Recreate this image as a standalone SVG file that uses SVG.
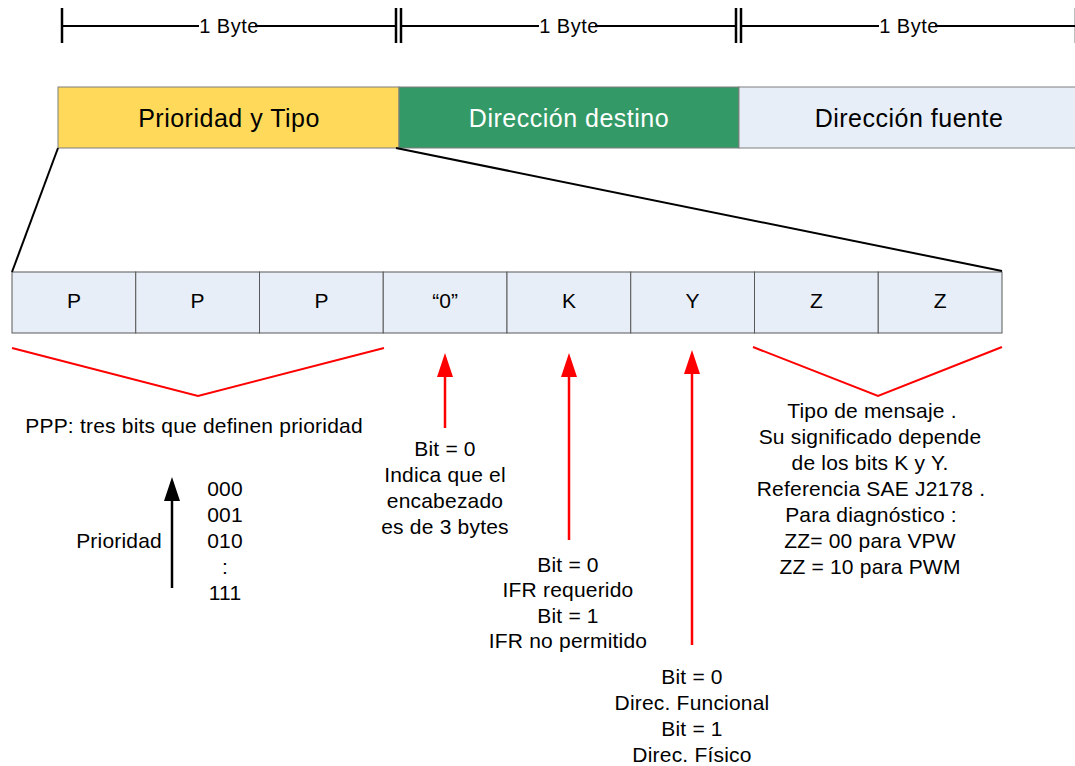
<svg xmlns="http://www.w3.org/2000/svg" width="1075" height="766" viewBox="0 0 1075 766">
  <defs>
    <style>
      text { font-family: "Liberation Sans", Arial, sans-serif; fill: #000; }
      .dim { font-size: 20px; letter-spacing: 0.5px; text-anchor: middle; }
      .hdr { font-size: 25px; letter-spacing: 0.5px; text-anchor: middle; }
      .bit { font-size: 21px; text-anchor: middle; }
      .note { font-size: 21px; letter-spacing: 0.2px; text-anchor: middle; }
      .dimline { stroke: #000; stroke-width: 2; fill: none; }
      .tick { stroke: #000; stroke-width: 2.5; fill: none; }
      .field { stroke: #7f7f7f; stroke-width: 1; }
      .cell { fill: #e8eef7; stroke: #595959; stroke-width: 1; }
      .expand { stroke: #000; stroke-width: 2; fill: none; }
      .brace { stroke: #ff0000; stroke-width: 2; fill: none; stroke-linejoin: miter; }
      .redarrow { stroke: #ff0000; stroke-width: 2.5; fill: none; marker-end: url(#redHead); }
      .blackarrow { stroke: #000; stroke-width: 2.5; fill: none; marker-end: url(#blackHead); }
    </style>
    <marker id="redHead" markerUnits="userSpaceOnUse" markerWidth="24" markerHeight="16" viewBox="0 0 24 16" refX="19" refY="8" orient="auto">
      <path d="M0,0 L24,8 L0,16 Z" fill="#ff0000"/>
    </marker>
    <marker id="blackHead" markerUnits="userSpaceOnUse" markerWidth="24" markerHeight="16" viewBox="0 0 24 16" refX="19" refY="8" orient="auto">
      <path d="M0,0 L24,8 L0,16 Z" fill="#000"/>
    </marker>
  </defs>

  <rect x="0" y="0" width="1075" height="766" fill="#ffffff"/>

  <!-- byte width dimension bars -->
  <g id="dimensions">
    <line class="tick" x1="62" y1="8" x2="62" y2="43"/>
    <line class="tick" x1="396" y1="8" x2="396" y2="43"/>
    <line class="tick" x1="401" y1="8" x2="401" y2="43"/>
    <line class="tick" x1="736" y1="8" x2="736" y2="43"/>
    <line class="tick" x1="741" y1="8" x2="741" y2="43"/>
    <line x1="1074.5" y1="8" x2="1074.5" y2="43" stroke="#bfbfbf" stroke-width="1"/>
    <line class="dimline" x1="62" y1="26" x2="199" y2="26"/>
    <line class="dimline" x1="255" y1="26" x2="396" y2="26"/>
    <line class="dimline" x1="401" y1="26" x2="539" y2="26"/>
    <line class="dimline" x1="595" y1="26" x2="736" y2="26"/>
    <line class="dimline" x1="741" y1="26" x2="879" y2="26"/>
    <line class="dimline" x1="935" y1="26" x2="1075" y2="26"/>
    <text class="dim" x="229" y="32.5">1 Byte</text>
    <text class="dim" x="569" y="32.5">1 Byte</text>
    <text class="dim" x="909" y="32.5">1 Byte</text>
  </g>

  <!-- header fields -->
  <g id="field-prioridad">
    <rect class="field" x="58" y="87" width="341" height="61" fill="#ffda5a"/>
    <text class="hdr" x="229" y="126.5">Prioridad y Tipo</text>
  </g>
  <g id="field-destino">
    <rect class="field" x="399" y="87" width="340" height="61" fill="#339966"/>
    <text class="hdr" x="569" y="126.5" style="fill:#ffffff">Dirección destino</text>
  </g>
  <g id="field-fuente">
    <rect class="field" x="739" y="87" width="345" height="61" fill="#e8eef7"/>
    <text class="hdr" x="909" y="126.5">Dirección fuente</text>
  </g>

  <!-- bit cells of the first byte -->
  <g id="bit-1"><rect class="cell" x="12" y="272" width="123.75" height="61"/><text class="bit" x="74" y="308">P</text></g>
  <g id="bit-2"><rect class="cell" x="135.75" y="272" width="123.75" height="61"/><text class="bit" x="197.6" y="308">P</text></g>
  <g id="bit-3"><rect class="cell" x="259.5" y="272" width="123.75" height="61"/><text class="bit" x="321.4" y="308">P</text></g>
  <g id="bit-4"><rect class="cell" x="383.25" y="272" width="123.75" height="61"/><text class="bit" x="445.1" y="308">“0”</text></g>
  <g id="bit-5"><rect class="cell" x="507" y="272" width="123.75" height="61"/><text class="bit" x="568.9" y="308">K</text></g>
  <g id="bit-6"><rect class="cell" x="630.75" y="272" width="123.75" height="61"/><text class="bit" x="692.6" y="308">Y</text></g>
  <g id="bit-7"><rect class="cell" x="754.5" y="272" width="123.75" height="61"/><text class="bit" x="816.4" y="308">Z</text></g>
  <g id="bit-8"><rect class="cell" x="878.25" y="272" width="123.75" height="61"/><text class="bit" x="940.1" y="308">Z</text></g>

  <!-- connectors -->
  <g id="connectors">
    <line class="expand" x1="58" y1="148" x2="12" y2="272"/>
    <line class="expand" x1="396" y1="148" x2="1002" y2="271"/>
    <polyline class="brace" points="12,348 198,396 384,348"/>
    <polyline class="brace" points="753,347 878,396 1002,347"/>
    <line class="redarrow" x1="445" y1="428" x2="445" y2="358"/>
    <line class="redarrow" x1="569" y1="540" x2="569" y2="358"/>
    <line class="redarrow" x1="692" y1="645" x2="692" y2="355"/>
    <line class="blackarrow" x1="172" y1="588" x2="172" y2="482"/>
  </g>

  <!-- annotations -->
  <g id="note-ppp">
    <text class="note" x="194" y="433">PPP: tres bits que definen prioridad</text>
  </g>
  <g id="note-prioridad">
    <text class="note" x="162" y="548" style="text-anchor:end">Prioridad</text>
    <text class="note" x="225" y="496">000</text>
    <text class="note" x="225" y="522">001</text>
    <text class="note" x="225" y="548">010</text>
    <text class="note" x="225" y="574">:</text>
    <text class="note" x="225" y="600">111</text>
  </g>
  <g id="note-bit0">
    <text class="note" x="445" y="456">Bit = 0</text>
    <text class="note" x="445" y="482">Indica que el</text>
    <text class="note" x="445" y="508">encabezado</text>
    <text class="note" x="445" y="534">es de 3 bytes</text>
  </g>
  <g id="note-k">
    <text class="note" x="568" y="572">Bit = 0</text>
    <text class="note" x="568" y="597">IFR requerido</text>
    <text class="note" x="568" y="623">Bit = 1</text>
    <text class="note" x="568" y="648">IFR no permitido</text>
  </g>
  <g id="note-y">
    <text class="note" x="692" y="684">Bit = 0</text>
    <text class="note" x="692" y="710">Direc. Funcional</text>
    <text class="note" x="692" y="736">Bit = 1</text>
    <text class="note" x="692" y="762">Direc. Físico</text>
  </g>
  <g id="note-zz">
    <text class="note" x="872" y="418">Tipo de mensaje .</text>
    <text class="note" x="870" y="444">Su significado depende</text>
    <text class="note" x="870" y="470">de los bits K y Y.</text>
    <text class="note" x="871" y="496">Referencia SAE J2178 .</text>
    <text class="note" x="871" y="522">Para diagnóstico :</text>
    <text class="note" x="870" y="548">ZZ= 00 para VPW</text>
    <text class="note" x="870" y="574">ZZ = 10 para PWM</text>
  </g>
</svg>
